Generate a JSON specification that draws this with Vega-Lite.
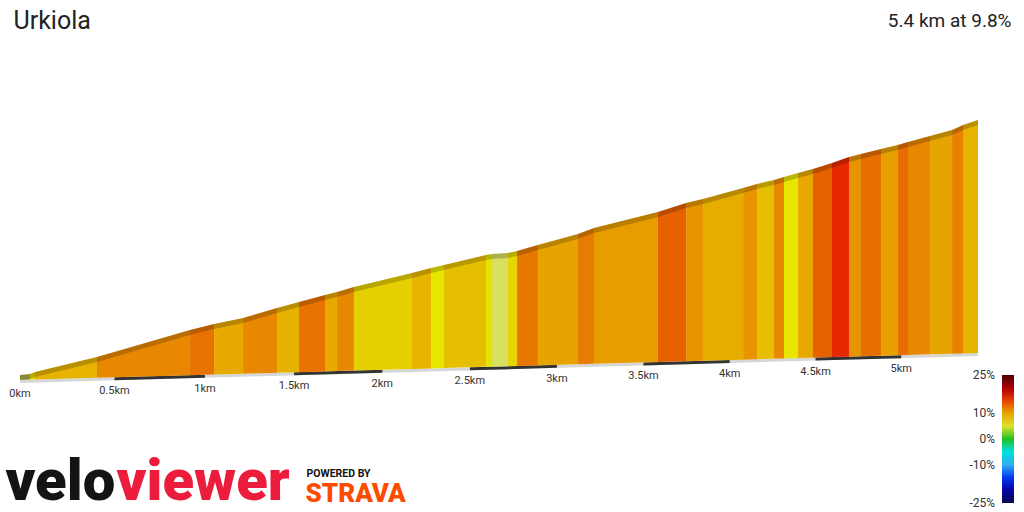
{
 "$schema": "https://vega.github.io/schema/vega-lite/v6.json",
 "width": 958,
 "height": 360,
 "autosize": {"type": "none"},
 "padding": {"left": 20, "top": 20, "right": 46, "bottom": 132},
 "background": "white",
 "config": {"view": {"stroke": null}, "font": "Roboto", "axis": {"domain": false, "ticks": false, "labels": false, "grid": false, "titleAngle": 0, "titleAnchor": null, "titleBaseline": "alphabetic", "titleAlign": "left", "titleFont": "Roboto", "titlePadding": 0}},
 "datasets": {
  "seg": [
   {"s":1,"g":2,"km":0,"top":0,"base":0},{"s":1,"g":2,"km":0.049,"top":2,"base":0.56},
   {"s":2,"g":7,"km":0.049,"top":2,"base":0.56},{"s":2,"g":7,"km":0.075,"top":6,"base":0.85},
   {"s":3,"g":9.2,"km":0.075,"top":6,"base":0.85},{"s":3,"g":9.2,"km":0.405,"top":36,"base":4.34},
   {"s":4,"g":11.4,"km":0.405,"top":36,"base":4.34},{"s":4,"g":11.4,"km":0.917,"top":90,"base":9.58},
   {"s":5,"g":12.5,"km":0.917,"top":90,"base":9.58},{"s":5,"g":12.5,"km":1.051,"top":102,"base":10.94},
   {"s":6,"g":9.8,"km":1.051,"top":102,"base":10.94},{"s":6,"g":9.8,"km":1.213,"top":114,"base":12.57},
   {"s":7,"g":11.4,"km":1.213,"top":114,"base":12.57},{"s":7,"g":11.4,"km":1.404,"top":134,"base":14.49},
   {"s":8,"g":9.3,"km":1.404,"top":134,"base":14.49},{"s":8,"g":9.3,"km":1.528,"top":146,"base":15.73},
   {"s":9,"g":12.5,"km":1.528,"top":146,"base":15.73},{"s":9,"g":12.5,"km":1.675,"top":160,"base":17.19},
   {"s":10,"g":9.8,"km":1.675,"top":160,"base":17.19},{"s":10,"g":9.8,"km":1.743,"top":166,"base":17.87},
   {"s":11,"g":11.4,"km":1.743,"top":166,"base":17.87},{"s":11,"g":11.4,"km":1.839,"top":176,"base":18.83},
   {"s":12,"g":7.5,"km":1.839,"top":176,"base":18.83},{"s":12,"g":7.5,"km":2.169,"top":204,"base":22.10},
   {"s":13,"g":9.2,"km":2.169,"top":204,"base":22.10},{"s":13,"g":9.2,"km":2.278,"top":214,"base":23.17},
   {"s":14,"g":6,"km":2.278,"top":214,"base":23.17},{"s":14,"g":6,"km":2.352,"top":220,"base":23.90},
   {"s":15,"g":8.5,"km":2.352,"top":220,"base":23.90},{"s":15,"g":8.5,"km":2.593,"top":240,"base":26.27},
   {"s":16,"g":6.3,"km":2.593,"top":240,"base":26.27},{"s":16,"g":6.3,"km":2.627,"top":242,"base":26.61},
   {"s":17,"g":4,"km":2.627,"top":242,"base":26.61},{"s":17,"g":4,"km":2.719,"top":244,"base":27.51},
   {"s":18,"g":7,"km":2.719,"top":244,"base":27.51},{"s":18,"g":7,"km":2.771,"top":248,"base":28.01},
   {"s":19,"g":12.3,"km":2.771,"top":248,"base":28.01},{"s":19,"g":12.3,"km":2.891,"top":260,"base":29.20},
   {"s":20,"g":10,"km":2.891,"top":260,"base":29.20},{"s":20,"g":10,"km":3.122,"top":282,"base":31.45},
   {"s":21,"g":12,"km":3.122,"top":282,"base":31.45},{"s":21,"g":12,"km":3.214,"top":294,"base":32.35},
   {"s":22,"g":10.4,"km":3.214,"top":294,"base":32.35},{"s":22,"g":10.4,"km":3.584,"top":326,"base":35.96},
   {"s":23,"g":13.5,"km":3.584,"top":326,"base":35.96},{"s":23,"g":13.5,"km":3.747,"top":344,"base":37.54},
   {"s":24,"g":10.8,"km":3.747,"top":344,"base":37.54},{"s":24,"g":10.8,"km":3.845,"top":352,"base":38.50},
   {"s":25,"g":9.6,"km":3.845,"top":352,"base":38.50},{"s":25,"g":9.6,"km":4.078,"top":374,"base":40.75},
   {"s":26,"g":10.8,"km":4.078,"top":374,"base":40.75},{"s":26,"g":10.8,"km":4.159,"top":382,"base":41.54},
   {"s":27,"g":8.5,"km":4.159,"top":382,"base":41.54},{"s":27,"g":8.5,"km":4.258,"top":390,"base":42.50},
   {"s":28,"g":11.4,"km":4.258,"top":390,"base":42.50},{"s":28,"g":11.4,"km":4.316,"top":396,"base":43.06},
   {"s":29,"g":6,"km":4.316,"top":396,"base":43.06},{"s":29,"g":6,"km":4.398,"top":404,"base":43.85},
   {"s":30,"g":9.8,"km":4.398,"top":404,"base":43.85},{"s":30,"g":9.8,"km":4.485,"top":412,"base":44.70},
   {"s":31,"g":13.5,"km":4.485,"top":412,"base":44.70},{"s":31,"g":13.5,"km":4.596,"top":424,"base":45.77},
   {"s":32,"g":16,"km":4.596,"top":424,"base":45.77},{"s":32,"g":16,"km":4.695,"top":436,"base":46.73},
   {"s":33,"g":10.8,"km":4.695,"top":436,"base":46.73},{"s":33,"g":10.8,"km":4.765,"top":442,"base":47.40},
   {"s":34,"g":12.7,"km":4.765,"top":442,"base":47.40},{"s":34,"g":12.7,"km":4.882,"top":452,"base":48.53},
   {"s":35,"g":10.2,"km":4.882,"top":452,"base":48.53},{"s":35,"g":10.2,"km":4.981,"top":460,"base":49.49},
   {"s":36,"g":12.8,"km":4.981,"top":460,"base":49.49},{"s":36,"g":12.8,"km":5.040,"top":466,"base":50.05},
   {"s":37,"g":11.4,"km":5.040,"top":466,"base":50.05},{"s":37,"g":11.4,"km":5.169,"top":478,"base":51.29},
   {"s":38,"g":10,"km":5.169,"top":478,"base":51.29},{"s":38,"g":10,"km":5.298,"top":490,"base":52.53},
   {"s":39,"g":11.8,"km":5.298,"top":490,"base":52.53},{"s":39,"g":11.8,"km":5.362,"top":500,"base":53.15},
   {"s":40,"g":9.2,"km":5.362,"top":500,"base":53.15},{"s":40,"g":9.2,"km":5.45,"top":510,"base":54.00}
  ],
  "ground": [{"km":0,"base":0},{"km":5.45,"base":54}],
  "bars": [
   {"b":1,"km":0.5,"base":5.32},{"b":1,"km":1,"base":10.43},
   {"b":2,"km":1.5,"base":15.45},{"b":2,"km":2,"base":20.42},
   {"b":3,"km":2.5,"base":25.35},{"b":3,"km":3,"base":30.26},
   {"b":4,"km":3.5,"base":35.14},{"b":4,"km":4,"base":40.00},
   {"b":5,"km":4.5,"base":44.85},{"b":5,"km":5,"base":49.67}
  ],
  "ticks": [
   {"km":0,"base":0,"label":"0km"},{"km":0.5,"base":5.32,"label":"0.5km"},{"km":1,"base":10.43,"label":"1km"},
   {"km":1.5,"base":15.45,"label":"1.5km"},{"km":2,"base":20.42,"label":"2km"},{"km":2.5,"base":25.35,"label":"2.5km"},
   {"km":3,"base":30.26,"label":"3km"},{"km":3.5,"base":35.14,"label":"3.5km"},{"km":4,"base":40.00,"label":"4km"},
   {"km":4.5,"base":44.85,"label":"4.5km"},{"km":5,"base":49.67,"label":"5km"}
  ]
 },
 "resolve": {"scale": {"x": "independent", "y": "independent"}, "axis": {"x": "independent", "y": "independent"}},
 "layer": [
  {
   "data": {"name": "ground"},
   "mark": {"type": "area", "color": "#d6d6d6", "y2Offset": 3},
   "encoding": {
    "x": {"field": "km", "type": "quantitative", "scale": {"type": "pow", "exponent": 0.97, "domain": [0, 5.45], "nice": false, "zero": false},
          "axis": {"orient": "bottom", "title": "POWERED BY", "titleX": 286, "titleY": 96, "titleFontSize": 10.5, "titleFontWeight": "bold", "titleColor": "#111111"}},
    "y": {"field": "base", "type": "quantitative", "scale": {"type": "linear", "domain": [0, 720], "nice": false, "zero": false},
          "axis": {"orient": "left", "title": "STRAVA", "titleX": 285, "titleY": 481, "titleFontSize": 26, "titleFontWeight": 900, "titleColor": "#fc4c02"}},
    "y2": {"field": "base"}
   }
  },
  {
   "data": {"name": "bars"},
   "mark": {"type": "area", "color": "#333333", "y2Offset": 3},
   "encoding": {
    "x": {"field": "km", "type": "quantitative", "scale": {"type": "pow", "exponent": 0.97, "domain": [0, 5.45], "nice": false, "zero": false}, "axis": null},
    "y": {"field": "base", "type": "quantitative", "scale": {"type": "linear", "domain": [0, 720], "nice": false, "zero": false}, "axis": null},
    "y2": {"field": "base"},
    "detail": {"field": "b", "type": "nominal"}
   }
  },
  {
   "data": {"name": "seg"},
   "mark": {"type": "area", "yOffset": -5},
   "encoding": {
    "x": {"field": "km", "type": "quantitative", "scale": {"type": "pow", "exponent": 0.97, "domain": [0, 5.45], "nice": false, "zero": false},
          "axis": {"orient": "bottom", "title": "velo", "titleX": -15, "titleY": 119, "titleFontSize": 58, "titleFontWeight": 900, "titleColor": "#141414"}},
    "y": {"field": "top", "type": "quantitative", "scale": {"type": "linear", "domain": [0, 720], "nice": false, "zero": false},
          "axis": {"orient": "left", "title": "Urkiola", "titleX": -7, "titleY": 8, "titleFontSize": 25, "titleFontWeight": "normal", "titleColor": "#222222"}},
    "y2": {"field": "base"},
    "detail": {"field": "s", "type": "nominal"},
    "color": {"field": "g", "type": "quantitative",
     "scale": {"domain": [-25, -18, -14, -10, -5, -2, 0, 2, 4, 6, 9, 12, 14, 16, 19, 22, 25],
               "range": ["#0a0a50", "#0000c8", "#0050ff", "#30b0f0", "#00e0e0", "#70c0a8", "#20c020", "#a8b048", "#d8e060", "#e6e600", "#e6b800", "#e87c00", "#e65800", "#e62800", "#c00000", "#800000", "#4a0000"],
               "interpolate": "rgb"},
     "legend": {"orient": "none", "legendX": 982, "legendY": 355, "direction": "vertical", "gradientLength": 128, "gradientThickness": 12, "title": null, "values": [-25, -10, 0, 10, 25], "labelExpr": "datum.value + '%'", "labelAlign": "right", "labelOffset": -19, "labelBaseline": "middle", "labelFontSize": 12, "labelColor": "#333333", "labelFont": "Roboto", "labelOverlap": false, "gradientStrokeWidth": 0, "padding": 0,
       "encode": {"labels": {"update": {"align": {"value": "right"}, "baseline": {"value": "middle"}}}}}}
   }
  },
  {
   "data": {"name": "seg"},
   "mark": {"type": "area", "yOffset": -5, "color": "#000000", "opacity": 0.2},
   "encoding": {
    "x": {"field": "km", "type": "quantitative", "scale": {"type": "pow", "exponent": 0.97, "domain": [0, 5.45], "nice": false, "zero": false},
          "axis": {"orient": "top", "title": "5.4 km at 9.8%", "titleX": 991, "titleY": 6, "titleAlign": "right", "titleFontSize": 19, "titleFontWeight": "normal", "titleColor": "#222222"}},
    "y": {"field": "top", "type": "quantitative", "scale": {"type": "linear", "domain": [0, 720], "nice": false, "zero": false},
          "axis": {"orient": "right", "title": "viewer", "titleX": -862, "titleY": 479, "titleFontSize": 58, "titleFontWeight": 900, "titleColor": "#ec1c3c"}},
    "y2": {"field": "top"},
    "detail": {"field": "s", "type": "nominal"}
   }
  },
  {
   "data": {"name": "ticks"},
   "mark": {"type": "text", "dy": 14, "fontSize": 11, "color": "#333333", "font": "Roboto", "align": "center", "baseline": "middle"},
   "encoding": {
    "x": {"field": "km", "type": "quantitative", "scale": {"type": "pow", "exponent": 0.97, "domain": [0, 5.45], "nice": false, "zero": false}, "axis": null},
    "y": {"field": "base", "type": "quantitative", "scale": {"type": "linear", "domain": [0, 720], "nice": false, "zero": false}, "axis": null},
    "text": {"field": "label"}
   }
  }
 ]
}
